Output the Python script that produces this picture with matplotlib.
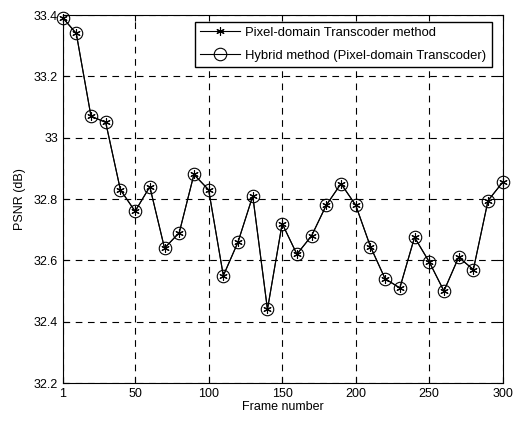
import numpy as np
import matplotlib.pyplot as plt

plt.rcParams['font.family'] = ['Liberation Sans', 'DejaVu Sans']

# Frames and PSNR values (dB)
frames = [1, 10, 20, 30, 40, 50, 60, 70, 80, 90, 100, 110, 120, 130, 140, 150,
          160, 170, 180, 190, 200, 210, 220, 230, 240, 250, 260, 270, 280, 290, 300]
psnr_pixel = [33.39, 33.34, 33.07, 33.05, 32.83, 32.76, 32.84, 32.64, 32.69, 32.88,
              32.83, 32.55, 32.66, 32.81, 32.44, 32.72, 32.62, 32.68, 32.78, 32.85,
              32.78, 32.645, 32.54, 32.51, 32.675, 32.595, 32.50, 32.61, 32.57, 32.795, 32.855]
psnr_hybrid = list(psnr_pixel)

xticks = [1, 50, 100, 150, 200, 250, 300]
yticks = [32.2, 32.4, 32.6, 32.8, 33.0, 33.2, 33.4]
yticklabels = ['32.2', '32.4', '32.6', '32.8', '33', '33.2', '33.4']

fig = plt.figure(figsize=(5.21, 4.22), dpi=100)
ax = fig.add_axes([0.121, 0.0924, 0.844, 0.872])

ax.plot(frames, psnr_pixel, color='black', lw=0.8, marker=(6, 2, 0),
        markersize=6, markeredgewidth=0.8, clip_on=False,
        label='Pixel-domain Transcoder method')
ax.plot(frames, psnr_hybrid, color='black', lw=0.8, marker='o', markersize=9,
        markerfacecolor='none', markeredgewidth=0.8, clip_on=False,
        label='Hybrid method (Pixel-domain Transcoder)')

ax.set_xlim(1, 300)
ax.set_ylim(32.2, 33.4)
ax.set_xticks(xticks)
ax.set_yticks(yticks)
ax.set_yticklabels(yticklabels)
ax.tick_params(direction='in', top=True, right=True, labelsize=9, length=4)
ax.grid(True, color='black', linestyle=(0, (6, 5)), linewidth=0.8)
ax.set_xlabel('Frame number', fontsize=9, labelpad=1)
ax.set_ylabel('PSNR (dB)', fontsize=9, labelpad=6)

leg = ax.legend(loc='upper right', bbox_to_anchor=(0.975, 0.982), borderaxespad=0,
                fontsize=9.4, handlelength=3.0, handletextpad=0.45, fancybox=False,
                edgecolor='black', framealpha=1, borderpad=0.4, labelspacing=0.8)
leg.get_frame().set_linewidth(1.0)

fig.savefig('out.png', dpi=100)
